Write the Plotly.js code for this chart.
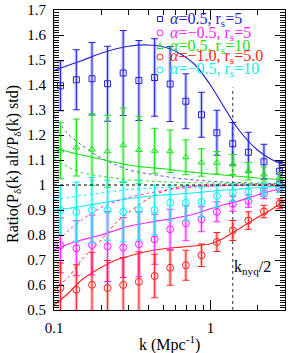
<!DOCTYPE html>
<html>
<head>
<meta charset="utf-8">
<script src="https://cdn.plot.ly/plotly-3.0.1.min.js"></script>
<style>html,body{margin:0;padding:0;background:#fff;}#chart{width:291px;height:353px;}</style>
</head>
<body>
<div id="chart"></div>
<script>
// ---- measured data (k in Mpc^-1) ----
const k = [0.110, 0.139, 0.175, 0.220, 0.277, 0.349, 0.440, 0.553, 0.697, 0.877, 1.10, 1.39, 1.75, 2.20, 2.77];

const blueVals  = [1.397, 1.421, 1.425, 1.405, 1.448, 1.418, 1.430, 1.404, 1.335, 1.281, 1.209, 1.165, 1.131, 1.093, 1.055];
const blueErr   = [0.10, 0.12, 0.145, 0.15, 0.17, 0.16, 0.155, 0.15, 0.11, 0.09, 0.09, 0.085, 0.08, 0.07, 0.04];
const magVals   = [0.759, 0.747, 0.760, 0.754, 0.750, 0.763, 0.783, 0.823, 0.847, 0.863, 0.893, 0.925, 0.936, 0.965, 0.985];
const magErr    = [0.11, 0.11, 0.12, 0.14, 0.12, 0.13, 0.10, 0.08, 0.07, 0.05, 0.04, 0.03, 0.025, 0.02, 0.015];
const greenVals = [1.138, 1.150, 1.142, 1.135, 1.159, 1.140, 1.137, 1.135, 1.111, 1.090, 1.089, 1.082, 1.055, 1.042, 1.030];
const greenErr  = [0.113, 0.114, 0.143, 0.144, 0.149, 0.135, 0.09, 0.085, 0.07, 0.055, 0.045, 0.04, 0.035, 0.03, 0.02];
const redVals   = [0.588, 0.581, 0.601, 0.588, 0.600, 0.613, 0.636, 0.669, 0.679, 0.719, 0.772, 0.818, 0.858, 0.894, 0.925];
const redErr    = [0.10, 0.10, 0.13, 0.11, 0.11, 0.12, 0.087, 0.07, 0.06, 0.045, 0.038, 0.04, 0.035, 0.025, 0.02];
const cyanVals  = [0.899, 0.892, 0.900, 0.899, 0.893, 0.900, 0.900, 0.929, 0.929, 0.932, 0.956, 0.969, 0.972, 0.980, 0.990];
const cyanErr   = [0.10, 0.12, 0.13, 0.12, 0.12, 0.12, 0.10, 0.07, 0.07, 0.06, 0.045, 0.035, 0.03, 0.025, 0.02];

// model curves
const kModel     = [0.1, 0.125, 0.15, 0.2, 0.25, 0.3, 0.4, 0.5, 0.6, 0.8, 1.0, 1.2, 1.5, 2.0, 2.5, 3.0];
const blueSolid  = [1.458, 1.48, 1.497, 1.527, 1.545, 1.555, 1.56, 1.553, 1.535, 1.48, 1.40, 1.32, 1.225, 1.14, 1.10, 1.08];
const blueDot    = [1.275, 1.20, 1.16, 1.108, 1.08, 1.06, 1.045, 1.035, 1.028, 1.02, 1.015, 1.012, 1.01, 1.007, 1.006, 1.005];
const greenSolid = [1.149, 1.132, 1.12, 1.103, 1.09, 1.08, 1.07, 1.065, 1.058, 1.05, 1.044, 1.04, 1.035, 1.028, 1.024, 1.02];
const greenDot   = [1.105, 1.07, 1.05, 1.035, 1.027, 1.02, 1.016, 1.013, 1.011, 1.009, 1.008, 1.007, 1.006, 1.005, 1.004, 1.004];
const cyanSolid  = [0.90, 0.907, 0.915, 0.928, 0.938, 0.945, 0.955, 0.96, 0.963, 0.969, 0.975, 0.979, 0.983, 0.99, 0.993, 0.995];
const cyanDot    = [0.942, 0.95, 0.958, 0.968, 0.976, 0.982, 0.987, 0.99, 0.992, 0.994, 0.996, 0.997, 0.998, 0.999, 1.0, 1.0];
const magSolid   = [0.74, 0.765, 0.78, 0.80, 0.82, 0.835, 0.85, 0.86, 0.868, 0.885, 0.905, 0.92, 0.935, 0.96, 0.978, 0.99];
const magDot     = [0.76, 0.82, 0.86, 0.91, 0.935, 0.95, 0.967, 0.978, 0.985, 0.992, 0.995, 0.997, 0.998, 0.999, 1.0, 1.0];
const redSolid   = [0.52, 0.57, 0.62, 0.67, 0.70, 0.715, 0.735, 0.745, 0.75, 0.757, 0.765, 0.785, 0.822, 0.87, 0.905, 0.94];
const redDot     = [0.58, 0.635, 0.70, 0.78, 0.85, 0.89, 0.945, 0.975, 0.99, 0.998, 1.0, 1.0, 1.0, 1.0, 1.0, 1.0];

const kNyqHalf = 1.39;
const kNyqTop = 1.39;

const legendLabels = [
  '<i>α</i>=0.5, r<sub>s</sub>=5',
  '<i>α</i>=−0.5, r<sub>s</sub>=5',
  '<i>α</i>=0.5, r<sub>s</sub>=10',
  '<i>α</i>=−1.0, r<sub>s</sub>=5.0',
  '<i>α</i>=−0.5, r<sub>s</sub>=10'
];

const xTickVals = [0.1, 1];
const xTickText = ['0.1', '1'];
const xMinorVals = [0.2,0.3,0.4,0.5,0.6,0.7,0.8,0.9,2,3];

// ---- styling ----
const FONT = 'Liberation Serif, Times New Roman, serif';
const series = [
  {v: blueVals,  e: blueErr,  c: '#2424d4', pale: 'rgba(70,70,230,0.32)', sym: 'square-open',       sz: 6},
  {v: magVals,   e: magErr,   c: '#ff22ff', pale: 'rgba(255,40,255,0.30)', sym: 'circle-open',       sz: 7},
  {v: greenVals, e: greenErr, c: '#22e022', pale: 'rgba(30,230,30,0.30)',  sym: 'triangle-up-open',  sz: 6},
  {v: redVals,   e: redErr,   c: '#ff2424', pale: 'rgba(255,40,40,0.30)',  sym: 'circle-open',       sz: 7},
  {v: cyanVals,  e: cyanErr,  c: '#11eeee', pale: 'rgba(0,235,235,0.32)',  sym: 'circle-open',       sz: 7}
];
const models = [
  {y: blueSolid, c: '#2424d4', d: 'solid'}, {y: blueDot, c: '#5555dd', d: 'dot'},
  {y: greenSolid, c: '#22e022', d: 'solid'}, {y: greenDot, c: '#22e022', d: 'dot'},
  {y: cyanSolid, c: '#11eeee', d: 'solid'}, {y: cyanDot, c: '#11eeee', d: 'dot'},
  {y: magSolid, c: '#ff22ff', d: 'solid'}, {y: magDot, c: '#ff22ff', d: 'dot'},
  {y: redSolid, c: '#ff2424', d: 'solid'}, {y: redDot, c: '#ff2424', d: 'dot'}
];

const traces = [];
models.forEach(m => traces.push({
  x: kModel, y: m.y, mode: 'lines', type: 'scatter', showlegend: false, hoverinfo: 'skip',
  line: {color: m.c, width: m.d === 'solid' ? 1.2 : 1, dash: m.d, shape: 'spline', smoothing: 0.8}
}));
series.forEach(s => {
  traces.push({
    x: k, y: s.v, mode: 'markers', type: 'scatter', showlegend: false, hoverinfo: 'skip',
    marker: {size: 1, color: 'rgba(0,0,0,0)'},
    error_y: {type: 'data', array: s.e, visible: true, color: s.pale, thickness: 3.5, width: 0}
  });
  traces.push({
    x: k, y: s.v, mode: 'markers', type: 'scatter', showlegend: false,
    marker: {symbol: s.sym, size: s.sz, color: s.c, line: {width: 1, color: s.c}},
    error_y: {type: 'data', array: s.e, visible: true, color: s.c, thickness: 1, width: 3.5}
  });
});

// legend (paper coords)
const W = 291, H = 353, ML = 54, MR = 6, MT = 10, MB = 43;
const pw = W - ML - MR, ph = H - MT - MB;
const px = x => (x - ML) / pw;
const py = y => (H - MB - y) / ph;
const rowY = [19, 33, 46, 57, 70];
const shapes = [];
const annotations = [];
series.forEach((s, i) => {
  const base = {xref: 'paper', yref: 'paper', xsizemode: 'pixel', ysizemode: 'pixel',
    xanchor: px(160), yanchor: py(rowY[i]), line: {color: s.c, width: 1}};
  if (s.sym === 'square-open') shapes.push(Object.assign({type: 'rect', x0: -2.5, x1: 2.5, y0: -2.5, y1: 2.5}, base));
  else if (s.sym === 'circle-open') shapes.push(Object.assign({type: 'circle', x0: -3, x1: 3, y0: -3, y1: 3}, base));
  else shapes.push(Object.assign({type: 'path', path: 'M -3 -2.5 L 3 -2.5 L 0 3 Z'}, base));
  annotations.push({xref: 'paper', yref: 'paper', x: px(169), y: py(rowY[i]), xanchor: 'left', yanchor: 'middle',
    text: legendLabels[i], showarrow: false, font: {family: FONT, size: 16, color: s.c}, borderpad: 0});
});
// reference lines
shapes.push({type: 'line', xref: 'paper', yref: 'y', x0: 0, x1: 1, y0: 1, y1: 1, line: {color: '#000', width: 1, dash: 'dot'}, layer: 'above'});
shapes.push({type: 'line', xref: 'x', yref: 'y', x0: kNyqHalf, x1: kNyqHalf, y0: 0.5, y1: kNyqTop, line: {color: '#333', width: 1, dash: 'dot'}, layer: 'below'});
annotations.push({xref: 'x', yref: 'y', x: Math.log10(kNyqHalf), y: 0.672, xanchor: 'left', yanchor: 'middle', showarrow: false,
  text: 'k<sub>nyq</sub>/2', font: {family: FONT, size: 16, color: '#000'}, borderpad: 0});
// axis titles
annotations.push({xref: 'paper', yref: 'paper', x: 0.5, y: py(343), xanchor: 'center', yanchor: 'middle', showarrow: false,
  text: 'k (Mpc<sup>-1</sup>)', font: {family: FONT, size: 16, color: '#000'}});
annotations.push({xref: 'paper', yref: 'paper', x: px(13), y: py(164), xanchor: 'center', yanchor: 'middle', showarrow: false, textangle: -90,
  text: 'Ratio(P<sub>δ</sub>(k) alt/P<sub>δ</sub>(k) std)', font: {family: FONT, size: 16, color: '#000'}});

const layout = {
  width: W, height: H,
  margin: {l: ML, r: MR, t: MT, b: MB, pad: 0},
  paper_bgcolor: '#fff', plot_bgcolor: '#fff',
  showlegend: false,
  font: {family: FONT, size: 15, color: '#000'},
  xaxis: {
    type: 'log', range: [-1, Math.log10(3)], showgrid: false, zeroline: false,
    showline: true, linecolor: '#000', linewidth: 1, mirror: 'allticks',
    ticks: 'inside', ticklen: 10, tickwidth: 1, tickcolor: '#000',
    tickmode: 'array', tickvals: xTickVals, ticktext: xTickText, ticklabelstandoff: 4,
    minor: {tickmode: 'array', tickvals: xMinorVals, ticks: 'inside', ticklen: 5, tickcolor: '#000', tickwidth: 1},
    tickfont: {family: FONT, size: 15}
  },
  yaxis: {
    range: [0.5, 1.7], showgrid: false, zeroline: false,
    showline: true, linecolor: '#000', linewidth: 1, mirror: 'allticks',
    ticks: 'inside', ticklen: 10, tickwidth: 1, tickcolor: '#000',
    tick0: 0.5, dtick: 0.1, ticklabelstandoff: 4,
    minor: {dtick: 0.01, ticks: 'inside', ticklen: 5, tickcolor: '#000', tickwidth: 1},
    tickfont: {family: FONT, size: 15}
  },
  shapes: shapes,
  annotations: annotations
};

Plotly.newPlot('chart', traces, layout, {displayModeBar: false, staticPlot: true});
</script>
</body>
</html>
